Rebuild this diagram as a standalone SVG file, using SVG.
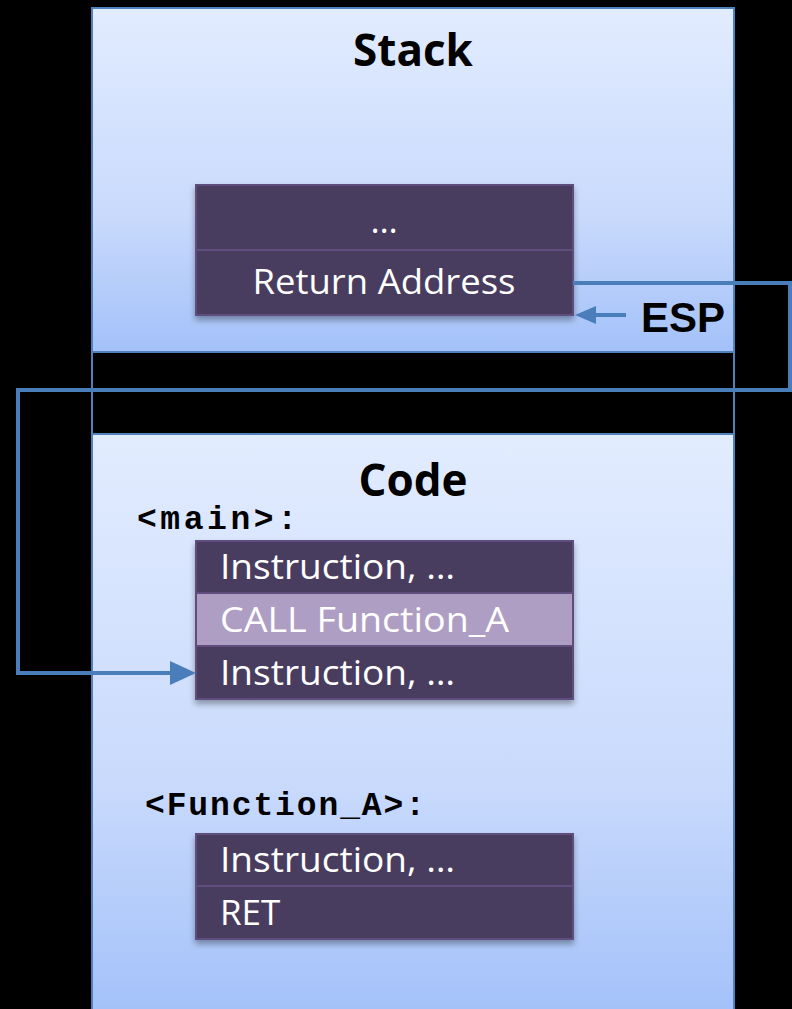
<svg xmlns="http://www.w3.org/2000/svg" width="792" height="1009" viewBox="0 0 792 1009">
<defs>
<linearGradient id="panel" x1="0" y1="0" x2="0" y2="1">
<stop offset="0" stop-color="#e2ecff"/>
<stop offset="0.6" stop-color="#c9dafc"/>
<stop offset="1" stop-color="#a3c1f9"/>
</linearGradient>
<filter id="sh" x="-10%" y="-10%" width="120%" height="130%">
<feDropShadow dx="0" dy="4" stdDeviation="3" flood-color="#000" flood-opacity="0.35"/>
</filter>
</defs>
<style>
.panel{fill:url(#panel);stroke:#4f81bd;stroke-width:2}
.cell{fill:#483c5e;stroke:#5f4d80;stroke-width:2}
.hl{fill:#ae9ec4;stroke:#5f4d80;stroke-width:2}
.t{font-family:"Open Sans","Noto Sans",sans-serif;font-size:35px;fill:#ffffff}
.title{font-family:"Open Sans","Noto Sans",sans-serif;font-size:44px;font-weight:bold;fill:#000}
.lab{font-family:"Liberation Mono","Courier New",monospace;font-size:33px;letter-spacing:3px;font-weight:bold;fill:#000}
.conn{fill:none;stroke:#4a7ebb;stroke-width:4}
</style>
<rect width="792" height="1009" fill="#000"/>
<g id="stack">
<rect class="panel" x="92" y="8" width="642" height="344"/>
<text class="title" x="413" y="66" text-anchor="middle">Stack</text>
<g filter="url(#sh)">
<rect class="cell" x="196" y="185" width="377" height="65"/>
<rect class="cell" x="196" y="250" width="377" height="65"/>
</g>
<text class="t" x="384" y="233" text-anchor="middle">…</text>
<text class="t" x="384" y="294" text-anchor="middle" textLength="263" lengthAdjust="spacingAndGlyphs">Return Address</text>
<text x="641" y="332" font-family="'Liberation Sans',Arial,sans-serif" font-size="42" font-weight="bold" fill="#000">ESP</text>
</g>
<g id="gap">
<line x1="92" y1="352" x2="92" y2="434" stroke="#4f81bd" stroke-width="2"/>
<line x1="734" y1="352" x2="734" y2="434" stroke="#4f81bd" stroke-width="2"/>
</g>
<g id="code">
<rect class="panel" x="92" y="434" width="642" height="580"/>
<text class="title" x="413" y="496" text-anchor="middle">Code</text>
<text class="lab" x="137" y="529" textLength="163" lengthAdjust="spacing">&lt;main&gt;:</text>
<g filter="url(#sh)">
<rect class="cell" x="196" y="541" width="377" height="52"/>
<rect class="hl" x="196" y="593" width="377" height="53"/>
<rect class="cell" x="196" y="646" width="377" height="53"/>
</g>
<text class="t" x="220" y="579" textLength="235" lengthAdjust="spacingAndGlyphs">Instruction, …</text>
<text class="t" x="220" y="632" textLength="289" lengthAdjust="spacingAndGlyphs">CALL Function_A</text>
<text class="t" x="220" y="685" textLength="235" lengthAdjust="spacingAndGlyphs">Instruction, …</text>
<text class="lab" x="145" y="815" textLength="283" lengthAdjust="spacing">&lt;Function_A&gt;:</text>
<g filter="url(#sh)">
<rect class="cell" x="196" y="834" width="377" height="52"/>
<rect class="cell" x="196" y="886" width="377" height="53"/>
</g>
<text class="t" x="220" y="872" textLength="235" lengthAdjust="spacingAndGlyphs">Instruction, …</text>
<text class="t" x="220" y="925">RET</text>
</g>
<g id="connectors">
<polyline class="conn" points="573,283 790,283 790,390 18,390 18,673 175,673"/>
<path d="M170,661 L196,673 L170,685 z" fill="#4a7ebb"/>
<line class="conn" x1="626" y1="315" x2="592" y2="315"/>
<path d="M575,315 L596,306 L596,324 z" fill="#4a7ebb"/>
</g>
</svg>
